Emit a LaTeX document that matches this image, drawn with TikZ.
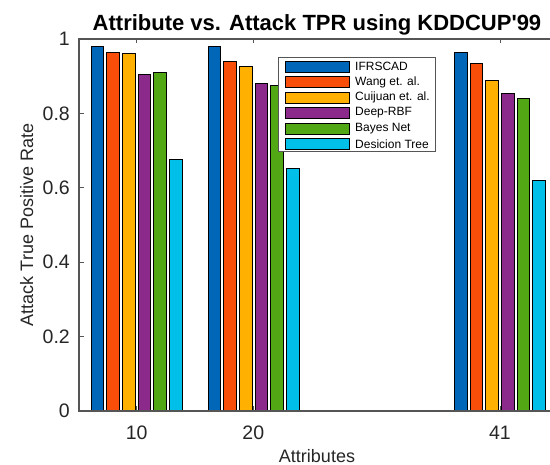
\documentclass[tikz,border=0pt]{standalone}
\usepackage{fontspec}
\setmainfont{Liberation Sans}[Ligatures=TeXOff]
\definecolor{cIF}{HTML}{0066B8}
\definecolor{cWang}{HTML}{F94E0A}
\definecolor{cCui}{HTML}{FFB000}
\definecolor{cDeep}{HTML}{8C2A8C}
\definecolor{cBayes}{HTML}{52A814}
\definecolor{cTree}{HTML}{00C0EA}
\definecolor{axgray}{HTML}{555555}
\definecolor{txtgray}{HTML}{262626}
\begin{document}
\begin{tikzpicture}[x=1pt,y=1pt,
  barbox/.style={draw=black,line width=0.8pt},
  axline/.style={draw=axgray,line width=1.1pt},
  ticklab/.style={text=txtgray,font=\fontsize{19.5}{20}\selectfont,inner sep=0pt},
  axlab/.style={text=txtgray,font=\fontsize{18}{19}\selectfont,inner sep=0pt},
  legtext/.style={text=black,font=\fontsize{12}{13}\selectfont,inner sep=0pt,anchor=west},
  legpatch/.style={draw=black,line width=0.7pt}]
\clip (0,0) rectangle (550,465);
\fill[white] (0,0) rectangle (550,465);

% tick marks on the inside of the axes
\foreach \v in {0,0.2,0.4,0.6,0.8,1}
  \draw[axgray,line width=0.8pt] (79,54+372*\v) -- ++(4.5,0);
\foreach \tx in {136.7,253.3,500}{
  \draw[axgray,line width=0.8pt] (\tx,426) -- ++(0,-4.5);
  \draw[axgray,line width=0.8pt] (\tx,54) -- ++(0,4.5);
}

% grouped bars: one group per attribute count
\foreach \cx/\va/\vb/\vc/\vd/\ve/\vf in {
    136.5/0.98/0.965/0.96/0.905/0.91/0.675,
    253.5/0.98/0.94/0.925/0.88/0.875/0.652,
    499.8/0.965/0.935/0.89/0.855/0.84/0.62}{
  \foreach \v/\c [count=\i from 0] in {\va/cIF,\vb/cWang,\vc/cCui,\vd/cDeep,\ve/cBayes,\vf/cTree}{
    \pgfmathsetmacro\xl{\cx+(\i-2.5)*15.7-6.35}
    \draw[barbox,fill=\c] (\xl,54) rectangle ++(12.7,372*\v);
  }
}

% axes box
\draw[axline] (555,426) -- (79,426) -- (79,54) -- (555,54);

% tick labels
\foreach \v/\t in {0/0,0.2/0.2,0.4/0.4,0.6/0.6,0.8/0.8,1/1}
  \node[ticklab,anchor=east] (y\t) at (70,54+372*\v) {\t};
\node[ticklab,anchor=base] (x10) at (136.7,25) {10};
\node[ticklab,anchor=base] (x20) at (253.3,25) {20};
\node[ticklab,anchor=base] (x41) at (500,25) {41};

% axis titles and chart title
\node[axlab,anchor=base] (xlabel) at (317,2.5) {Attributes};
\node[axlab,anchor=base,rotate=90] (ylabel) at (33,240) {Attack True Positive Rate};
\node[text=black,font=\fontsize{22}{23}\bfseries\selectfont,inner sep=0pt,anchor=base] (title) at (317,434) {Attribute vs. Attack TPR using KDDCUP'99};

% legend
\draw[draw=axgray,line width=0.9pt,fill=white] (278.3,313.3) rectangle (435.7,407.7);
\foreach \c/\t [count=\k from 0] in {cIF/IFRSCAD,cWang/Wang et. al.,cCui/Cuijuan et. al.,cDeep/Deep-RBF,cBayes/Bayes Net,cTree/Desicion Tree}{
  \draw[legpatch,fill=\c] (285,398.3-15.47*\k-5.5) rectangle (349.3,398.3-15.47*\k+5.5);
  \node[legtext] (leg\k) at (355,398.3-15.47*\k) {\t};
}
\end{tikzpicture}
\end{document}
